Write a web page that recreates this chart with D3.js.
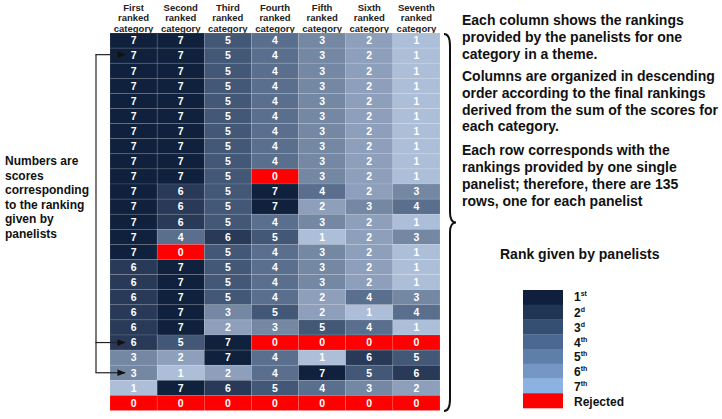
<!DOCTYPE html>
<html>
<head>
<meta charset="utf-8">
<script src="https://cdn.jsdelivr.net/npm/d3@7"></script>
<style>
html,body{margin:0;padding:0;background:#fff;}
svg{display:block;font-family:Arial,"Liberation Sans",sans-serif;}
</style>
</head>
<body>
<svg id="chart" width="722" height="419"></svg>
<script>
// ---- data ----
const categories = ["First ranked category","Second ranked category","Third ranked category","Fourth ranked category","Fifth ranked category","Sixth ranked category","Seventh ranked category"];
const scoreRows = [
  [7,7,5,4,3,2,1],
  [7,7,5,4,3,2,1],
  [7,7,5,4,3,2,1],
  [7,7,5,4,3,2,1],
  [7,7,5,4,3,2,1],
  [7,7,5,4,3,2,1],
  [7,7,5,4,3,2,1],
  [7,7,5,4,3,2,1],
  [7,7,5,4,3,2,1],
  [7,7,5,0,3,2,1],
  [7,6,5,7,4,2,3],
  [7,6,5,7,2,3,4],
  [7,6,5,4,3,2,1],
  [7,4,6,5,1,2,3],
  [7,0,5,4,3,2,1],
  [6,7,5,4,3,2,1],
  [6,7,5,4,3,2,1],
  [6,7,5,4,2,4,3],
  [6,7,3,5,2,1,4],
  [6,7,2,3,5,4,1],
  [6,5,7,0,0,0,0],
  [3,2,7,4,1,6,5],
  [3,1,2,4,7,5,6],
  [1,7,6,5,4,3,2],
  [0,0,0,0,0,0,0]
];
const arrowRows = [1,20,22];
const scoreLevels = [7,6,5,4,3,2,1,0];
const cellColors = ["#10213d","#283a57","#435877","#5a6f8e","#7487a3","#8d9fbb","#adbed8","#ff0000"];
const legendLabels = [["1","st"],["2","d"],["3","d"],["4","th"],["5","th"],["6","th"],["7","th"],["Rejected",""]];
const legendColors = ["#0f1f3d","#203553","#354f72","#4a6891","#5f7fab","#7597c6","#8cb1e3","#ff0000"];
const leftNote = ["Numbers are","scores","corresponding","to the ranking","given by","panelists"];
const rightNotes = [
  ["Each column shows the rankings","provided by the panelists for one","category in a theme."],
  ["Columns are organized in descending","order according to the final rankings","derived from the sum of the scores for","each category."],
  ["Each row corresponds with the","rankings provided by one single","panelist; therefore, there are 135","rows, one for each panelist"]
];
const legendTitle = "Rank given by panelists";

// ---- drawing ----
const svg = d3.select("#chart");
const x = d3.scaleBand().domain(d3.range(categories.length)).range([110, 440]).padding(0);
const y = d3.scaleBand().domain(d3.range(scoreRows.length)).range([33, 410.5]).padding(0);
const color = d3.scaleOrdinal().domain(scoreLevels).range(cellColors);

// headers
const hdr = svg.append("g");
categories.forEach((c, i) => {
  const words = c.split(" ");
  const t = hdr.append("text").attr("x", x(i) + x.bandwidth()/2).attr("text-anchor","middle")
    .attr("font-size", 9.5).attr("font-weight","bold").attr("fill","#222");
  words.forEach((w, k) => t.append("tspan").attr("x", x(i) + x.bandwidth()/2).attr("y", 11 + k*10.3).text(w));
});

// cells
const cells = [];
scoreRows.forEach((r, ri) => r.forEach((v, ci) => cells.push({ri, ci, v})));
svg.append("g").selectAll("rect").data(cells).join("rect")
  .attr("x", d => x(d.ci)).attr("y", d => y(d.ri))
  .attr("width", x.bandwidth()).attr("height", y.bandwidth())
  .attr("fill", d => color(d.v))
  .attr("stroke", "rgba(255,255,255,0.18)").attr("stroke-width", 0.6);
svg.append("g").selectAll("text").data(cells).join("text")
  .attr("x", d => x(d.ci) + x.bandwidth()/2).attr("y", d => y(d.ri) + y.bandwidth()/2 + 3.8)
  .attr("text-anchor","middle").attr("font-size", 10.5).attr("font-weight","bold")
  .attr("fill","#fff").text(d => d.v);

// left bracket with arrows
svg.append("defs").append("marker").attr("id","ah").attr("viewBox","0 0 10 10")
  .attr("refX",9).attr("refY",5).attr("markerWidth",7).attr("markerHeight",7).attr("orient","auto")
  .append("path").attr("d","M0,1 L10,5 L0,9 Z").attr("fill","#111");
const yTop = y(arrowRows[0]) + y.bandwidth()/2 - 1;
const yBot = y(arrowRows[arrowRows.length-1]) + y.bandwidth()/2;
const bx = 96;
svg.append("line").attr("x1",bx).attr("x2",bx).attr("y1",yTop).attr("y2",yBot).attr("stroke","#222").attr("stroke-width",1.2);
arrowRows.forEach(r => {
  const yy = y(r) + y.bandwidth()/2 - (r === arrowRows[0] ? 1 : 0);
  svg.append("line").attr("x1",bx-0.6).attr("x2",125).attr("y1",yy).attr("y2",yy)
    .attr("stroke","#222").attr("stroke-width",1.2).attr("marker-end","url(#ah)");
});

// left note
const ln = svg.append("text").attr("font-size",12).attr("font-weight","bold").attr("fill","#111");
leftNote.forEach((s,k) => ln.append("tspan").attr("x",5).attr("y",165 + k*14.6).text(s));

// right brace
const b0 = 34, b1 = 411, bm = (b0+b1)/2, bxl = 444, bxr = 456;
svg.append("path")
  .attr("d", `M${bxl},${b0} Q${bxl+6},${b0} ${bxl+6},${b0+12} L${bxl+6},${bm-10} Q${bxl+6},${bm} ${bxr},${bm} Q${bxl+6},${bm} ${bxl+6},${bm+10} L${bxl+6},${b1-12} Q${bxl+6},${b1} ${bxl},${b1}`)
  .attr("fill","none").attr("stroke","#111").attr("stroke-width",2);

// right notes
let ty = 25;
const gaps = [5.5, 7];
rightNotes.forEach((p, pi) => {
  const t = svg.append("text").attr("font-size",14).attr("font-weight","bold").attr("fill","#111");
  p.forEach((s,k) => { t.append("tspan").attr("x",462).attr("y",ty).text(s); ty += 16.8; });
  ty += gaps[pi] || 0;
});

// legend title
svg.append("text").attr("x",500).attr("y",259).attr("font-size",14).attr("font-weight","bold").attr("fill","#111").text(legendTitle);

// legend
const ly = d3.scaleBand().domain(d3.range(legendColors.length)).range([290, 408]);
const lg = svg.append("g");
lg.selectAll("rect").data(legendColors).join("rect")
  .attr("x",523).attr("y",(d,i)=>ly(i)).attr("width",40).attr("height",ly.bandwidth()+0.3).attr("fill",d=>d);
legendLabels.forEach((l,i) => {
  const t = lg.append("text").attr("x",574).attr("y",ly(i)+ly.bandwidth()/2 + 5 + (i===0?-1:0)).attr("font-size",12).attr("font-weight","bold").attr("fill","#111");
  t.append("tspan").text(l[0]);
  if (l[1]) t.append("tspan").attr("font-size",7).attr("dy",-5).text(l[1]);
});
</script>
</body>
</html>
